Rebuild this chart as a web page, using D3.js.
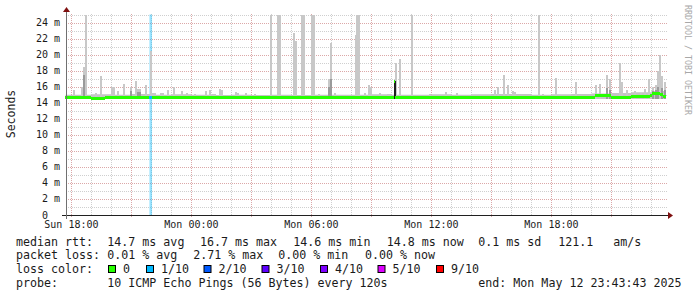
<!DOCTYPE html>
<html>
<head>
<meta charset="utf-8">
<script src="https://cdn.jsdelivr.net/npm/d3@7"></script>
<style>
  body { margin: 0; background: #fff; }
  svg text { font-family: "DejaVu Sans Mono", monospace; fill: #1a1a1a; white-space: pre; }
</style>
</head>
<body>
<svg width="697" height="297"></svg>
<script>
// hours are counted from Sun 18:00
const spikeHours = [0.1, 0.5, 0.6, 0.7, 1.2, 1.45, 2.0, 2.1, 2.3, 2.6, 2.95, 3.2, 3.3, 3.4, 3.7, 3.95,
  4.05, 4.15, 4.45, 4.55, 4.8, 5.1, 5.5, 5.75, 6.15, 6.7, 6.9, 7.05, 7.15, 7.4, 7.5, 8.2, 8.3, 8.7,
  9.15, 9.95, 10.3, 10.4, 11.1, 11.2, 11.5, 11.6, 12.0, 12.1, 12.35, 12.85, 12.95, 13.15, 14.2,
  14.25, 14.35, 14.65, 14.85, 14.95, 15.4, 15.8, 15.9, 16.2, 16.4, 16.97, 17.9, 18.7, 19.25,
  21.15, 21.3, 21.6, 21.8, 22.05, 22.15, 23.35, 23.55, 24.2, 25.2, 26.2, 26.4, 26.75, 26.9,
  27.4, 27.5, 27.75, 28.15, 28.45, 28.65, 28.85, 29.05, 29.2, 29.3, 29.38, 29.5, 29.65];
const spikeMaxMs = [15.6, 15.9, 18.4, 25, 15.2, 17.3, 15.9, 15.9, 15.4, 16.3, 16.0, 16.7, 15.7, 15.7, 16.2, 20.5,
  15.2, 15.2, 15.2, 15.2, 15.6, 16.0, 15.4, 15.2, 15.1, 15.5, 15.6, 15.1, 15.1, 15.7, 15.6, 15.3, 15.2, 15.2,
  15.05, 25, 25, 25, 22.7, 21.7, 25, 25, 25, 25, 15.1, 17.0, 21.4, 15.2, 22.5,
  25, 25, 15.15, 16.2, 16.0, 15.2, 15.1, 15.1, 18.9, 19.5, 25, 15.1, 15.3, 15.2,
  15.6, 15.9, 17.4, 16.2, 15.4, 15.3, 25, 15.1, 17.1, 16.6, 16.2, 16.3, 17.5, 16.9,
  18.9, 16.6, 15.6, 15.5, 15.2, 15.7, 17.0, 15.9, 16.2, 17.9, 19.9, 17.3, 16.6];
const spikeMidMs = [null, null, 17.5, null, null, null, null, null, null, null, 15.5, null, 15.3, 15.3, null, null,
  null, null, null, null, null, null, null, null, null, null, null, null, null, null, null, null, null, null,
  null, null, null, null, null, null, null, null, null, null, null, 16.0, 17.0, null, null,
  null, null, null, null, null, null, null, null, null, null, null, null, null, null,
  null, null, null, null, null, null, null, null, null, null, null, null, 15.8, 15.6,
  null, null, null, null, null, null, null, 15.5, 15.6, 16.0, null, 15.8, 15.6];
const denseHours = [16.12];
const denseMs = [16.7];

const bandHours = [-0.3, 1, 2, 3, 4, 5, 6, 7, 8, 9, 10, 11, 12, 13, 14, 15, 16, 17, 18, 19, 20,
  21, 22, 23, 24, 25, 26, 27, 28, 29];
const bandTopMs = [15.0, 15.05, 15.0, 15.1, 15.0, 15.05, 15.0, 14.95, 15.0, 14.95, 15.0, 14.95, 15.0, 15.0,
  15.0, 15.05, 15.0, 15.0, 15.05, 15.0, 15.05, 15.1, 15.1, 15.0, 15.05, 15.1, 15.15, 15.2, 15.3, 15.45];
const bandBottomMs = 14.45;

const medianHours = [-0.3, 1.0, 1.7, 4.05, 8.0, 10.0, 16.15, 16.2, 20.0, 26.2, 27.0, 28.0, 28.95, 29.05, 29.45, 29.6];
const medianMs = [14.65, 14.55, 14.65, 14.65, 14.6, 14.65, 16.7, 14.65, 14.7, 14.85, 14.7, 14.75, 14.95, 15.1, 15.0, 14.8];

const lossStart = [3.9];
const lossEnd = [4.03];
const lossLevel = ["1/10"];

const lossLabels = ["0", "1/10", "2/10", "3/10", "4/10", "5/10", "9/10"];
const lossColors = ["#26ff00", "#00b8ff", "#0059ff", "#5e00ff", "#7e00ff", "#dd00ff", "#ff0000"];

const rttStats = ["14.7 ms avg", "16.7 ms max", "14.6 ms min", "14.8 ms now", "0.1 ms sd", "121.1", "am/s"];
const lossStats = ["0.01 % avg", "2.71 % max", "0.00 % min", "0.00 % now"];
const yTicks = d3.range(0, 25, 2);

const svg = d3.select("svg");
const plot = { left: 66, right: 666, top: 14.5, bottom: 215 };

const base = new Date(2025, 4, 11, 18, 0, 0);
const hr = h => new Date(+base + h * 3600e3);
const start = new Date(2025, 4, 11, 17, 43, 43);
const end = new Date(2025, 4, 12, 23, 43, 43);

const x = d3.scaleTime().domain([start, end]).range([plot.left, plot.right]);
const y = d3.scaleLinear().domain([0, 25]).range([plot.bottom, plot.top]);
const step = h => x(hr(h + 0.1)) - x(hr(h));

// grid
const grid = svg.append("g").attr("shape-rendering", "crispEdges");
d3.range(1, 26).forEach(v => {
  const yy = Math.round(y(v)) + 0.5;
  grid.append("line")
    .attr("x1", plot.left).attr("x2", plot.right + 1)
    .attr("y1", yy).attr("y2", yy)
    .attr("stroke", v % 2 === 0 ? "#dca8a8" : "#cfcfcf")
    .attr("stroke-dasharray", "1,1");
});
d3.timeHour.range(start, end).forEach(t => {
  const major = t.getHours() % 3 === 0;
  const xx = Math.round(x(t)) + 0.5;
  grid.append("line")
    .attr("x1", xx).attr("x2", xx)
    .attr("y1", plot.top - 1).attr("y2", plot.bottom + (major ? 3 : 1))
    .attr("stroke", major ? "#dca8a8" : "#cfcfcf")
    .attr("stroke-dasharray", "1,1");
});

// loss background bars
lossStart.forEach((h, i) => {
  svg.append("rect")
    .attr("x", x(hr(h))).attr("width", x(hr(lossEnd[i])) - x(hr(h)))
    .attr("y", y(25)).attr("height", y(0) - y(25))
    .attr("fill", lossColors[lossLabels.indexOf(lossLevel[i])])
    .attr("opacity", 0.4);
});

// base smoke band
const bandData = bandHours.map((h, i) => ({ t: hr(h), v: bandTopMs[i] }));
bandData.push({ t: end, v: bandTopMs[bandTopMs.length - 1] });
svg.append("path")
  .datum(bandData)
  .attr("fill", "#c4c4c4")
  .attr("d", d3.area().curve(d3.curveStepAfter)
    .x(d => x(d.t)).y0(y(bandBottomMs)).y1(d => y(d.v)));

// smoke spikes
const smoke = svg.append("g").attr("shape-rendering", "crispEdges");
spikeHours.forEach((h, i) => {
  smoke.append("rect")
    .attr("x", x(hr(h))).attr("width", step(h))
    .attr("y", y(spikeMaxMs[i])).attr("height", y(bandBottomMs) - y(spikeMaxMs[i]))
    .attr("fill", "#c8c8c8");
});
spikeHours.forEach((h, i) => {
  if (spikeMidMs[i] == null) return;
  smoke.append("rect")
    .attr("x", x(hr(h))).attr("width", step(h))
    .attr("y", y(spikeMidMs[i])).attr("height", y(bandBottomMs) - y(spikeMidMs[i]))
    .attr("fill", "#9a9a9a");
});
denseHours.forEach((h, i) => {
  smoke.append("rect")
    .attr("x", x(hr(h))).attr("width", step(h))
    .attr("y", y(denseMs[i])).attr("height", y(bandBottomMs) - y(denseMs[i]))
    .attr("fill", "#1e1e1e");
});

// median line
const med = svg.append("g").attr("shape-rendering", "crispEdges");
medianHours.forEach((h, i) => {
  const t1 = i + 1 < medianHours.length ? hr(medianHours[i + 1]) : end;
  med.append("line")
    .attr("x1", x(hr(h))).attr("x2", x(t1))
    .attr("y1", y(medianMs[i])).attr("y2", y(medianMs[i]))
    .attr("stroke", lossColors[0]).attr("stroke-width", 3);
});
lossStart.forEach((h, i) => {
  const j = d3.bisectRight(medianHours, h) - 1;
  med.append("line")
    .attr("x1", x(hr(h))).attr("x2", x(hr(lossEnd[i])))
    .attr("y1", y(medianMs[j])).attr("y2", y(medianMs[j]))
    .attr("stroke", lossColors[lossLabels.indexOf(lossLevel[i])]).attr("stroke-width", 3);
});

// axes
svg.append("line")
  .attr("x1", plot.left - 4).attr("x2", plot.right + 3)
  .attr("y1", plot.bottom + 0.5).attr("y2", plot.bottom + 0.5)
  .attr("stroke", "#202020");
svg.append("line")
  .attr("x1", plot.left + 0.5).attr("x2", plot.left + 0.5)
  .attr("y1", plot.bottom + 4).attr("y2", 11)
  .attr("stroke", "#707070");
svg.append("path").attr("fill", "#7f1010")
  .attr("d", `M${plot.right + 2},${plot.bottom - 3}L${plot.right + 7},${plot.bottom + 0.5}L${plot.right + 2},${plot.bottom + 4}Z`);
svg.append("path").attr("fill", "#7f1010")
  .attr("d", `M${plot.left - 3},12L${plot.left + 0.5},7L${plot.left + 4},12Z`);

// y labels
yTicks.forEach(v => {
  svg.append("text").attr("x", 48).attr("y", y(v) + 3.5)
    .attr("text-anchor", "end").attr("font-size", 10).text(v);
  if (v > 0) svg.append("text").attr("x", 54).attr("y", y(v) + 3.5)
    .attr("font-size", 10).attr("fill", "#555").text("m");
});

// x labels
const fmt = d3.timeFormat("%a %H:%M");
d3.timeHour.every(6).range(start, end).forEach(t => {
  svg.append("text").attr("x", x(t)).attr("y", 228)
    .attr("text-anchor", "middle").attr("font-size", 10).text(fmt(t));
});

svg.append("text")
  .attr("transform", "translate(15,114) rotate(-90)")
  .attr("text-anchor", "middle").attr("font-size", 11.5).text("Seconds");

svg.append("text")
  .attr("transform", "translate(684.5,5) rotate(90)")
  .attr("font-size", 8.3).style("fill", "#a8a8a8").text("RRDTOOL / TOBI OETIKER");

// legend
const legend = svg.append("g").attr("font-size", 11.65);
const row = (yy, parts) => parts.forEach(([xx, s]) =>
  legend.append("text").attr("x", xx).attr("y", yy).text(s));

row(245.5, [[16, "median rtt:"], [107.3, rttStats[0]], [200, rttStats[1]], [293.3, rttStats[2]],
  [386.7, rttStats[3]], [478.3, rttStats[4]], [558.3, rttStats[5]], [613.3, rttStats[6]]]);
row(259, [[16, "packet loss:"], [107.3, lossStats[0]], [193.3, lossStats[1]],
  [278.3, lossStats[2]], [365, lossStats[3]]]);
row(273, [[16, "loss color:"]]);
const swatchX = [108.5, 146.5, 204, 262, 320.5, 378, 436.5];
lossLabels.forEach((s, i) => {
  legend.append("rect").attr("x", swatchX[i]).attr("y", 265.5)
    .attr("width", 7).attr("height", 7)
    .attr("fill", lossColors[i]).attr("stroke", "#000");
  legend.append("text").attr("x", swatchX[i] + 14.5).attr("y", 273).text(s);
});
row(286.5, [[16, "probe:"], [107.3, "10 ICMP Echo Pings (56 Bytes) every 120s"],
  [478.3, "end: Mon May 12 23:43:43 2025"]]);
</script>
</body>
</html>
